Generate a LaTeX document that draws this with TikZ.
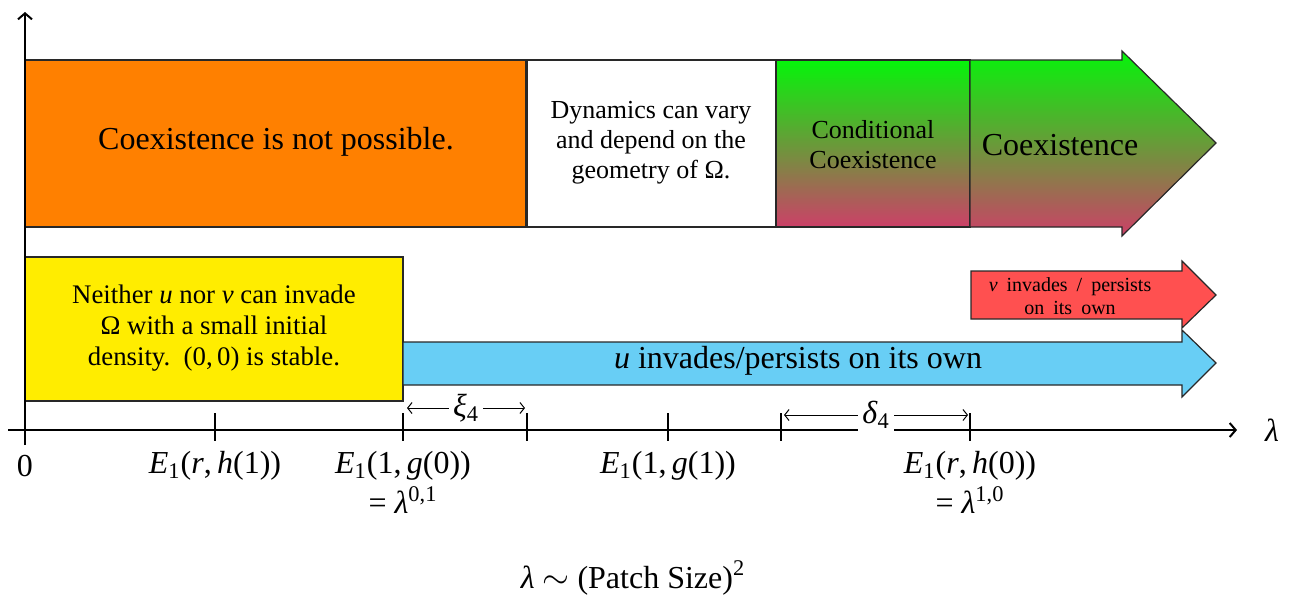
\documentclass[tikz,border=0pt]{standalone}
\usepackage{fontspec}
\setmainfont{Liberation Serif}
\usetikzlibrary{arrows.meta}
\definecolor{orangeC}{RGB}{255,128,0}
\definecolor{yellowC}{RGB}{255,237,0}
\definecolor{blueC}{RGB}{104,206,245}
\definecolor{redC}{RGB}{255,80,80}
\definecolor{gtop}{RGB}{5,245,10}
\definecolor{gbot}{RGB}{204,64,104}
\definecolor{edgeC}{RGB}{40,40,40}
\newcommand\fsz[1]{\fontsize{#1}{1.15\dimexpr #1pt\relax}\selectfont}
\newcommand\ws{\hspace{4.5pt}}
\begin{document}
\begin{tikzpicture}[x=0.5pt,y=-0.5pt,
  box/.style={draw=edgeC, line width=0.6pt},
  grad/.style={box, top color=gtop, bottom color=gbot},
  axisline/.style={line width=1pt, -{Straight Barb[length=3pt,width=7pt]}},
  tickline/.style={line width=0.8pt},
  span/.style={line width=0.5pt, {Straight Barb[length=2.2pt,width=5.5pt]}-{Straight Barb[length=2.2pt,width=5.5pt]}},
  txt/.style={inner sep=0pt, align=center},
  big/.style={txt, font=\fsz{16}},
  mid/.style={txt, font=\fsz{13}},
  small/.style={txt, font=\fsz{10}}]
\useasboundingbox (0,0) rectangle (1293,596);

% top row
\filldraw[box, fill=orangeC] (25,60) rectangle (526,227);
\filldraw[box, fill=white] (527,60) rectangle (776,227);
\shadedraw[grad] (776,60) rectangle (970,227);
\shadedraw[grad] (970,60) -- (1122,60) -- (1122,51) -- (1216,143) -- (1122,236) -- (1122,227) -- (970,227) -- cycle;

\node[big] (nocoex) at (276,142) {Coexistence is not possible.};
\node[mid] (dyn) at (651,143) {Dynamics can vary\\and depend on the\\geometry of Ω.};
\node[mid] (cond) at (873,145) {Conditional\\Coexistence};
\node[big] (coex) at (1060,145) {Coexistence};

% bottom row
\filldraw[box, fill=yellowC] (25,257) rectangle (403,401);
\filldraw[box, fill=blueC] (403,342) -- (1182,342) -- (1182,330) -- (1216,363) -- (1182,397) -- (1182,385) -- (403,385) -- cycle;
\filldraw[box, fill=redC] (971,271) -- (1182,271) -- (1182,261) -- (1216,295) -- (1182,328) -- (1182,319) -- (971,319) -- cycle;

\node[txt, font=\fsz{13.4}] (neither) at (214,328) {Neither \textit{u} nor \textit{v} can invade\\Ω with a small initial\\density.\ \ (0,\,0) is stable.};
\node[big] (uinv) at (798,361) {\textit{u} invades/persists on its own};
\node[small] (vinv) at (1070,296) {\textit{v}\ws invades\ws /\ws persists\\on\ws its\ws own};

% axes
\coordinate (xs) at (8,430);
\coordinate (xe) at (1237,430);
\coordinate (ys) at (25,445);
\coordinate (ye) at (25,12);
\draw[axisline] (xs) -- (xe);
\draw[axisline] (ys) -- (ye);
\node[big] (lam) at (1272,430) {\textit{λ}};

% ticks
\foreach \n/\x in {a/215,b/403,c/527,d/668,e/781,f/970}{
  \coordinate (t\n u) at (\x,413);
  \coordinate (t\n d) at (\x,441);
  \draw[tickline] (t\n u) -- (t\n d);
}

% spans
\coordinate (xiL) at (407,408);
\coordinate (xiR) at (525,408);
\draw[span] (xiL) -- node[fill=white, inner sep=2pt, font=\fsz{16}] (xi) {\textit{ξ}\textsubscript{4}} (xiR);
\coordinate (deL) at (784,415);
\coordinate (deR) at (968,415);
\draw[span] (deL) -- node[fill=white, inner sep=2pt, font=\fsz{16}] (de) {\textit{δ}\textsubscript{4}} (deR);

% labels
\node[big] (l0) at (25,466) {0};
\node[big] (l1) at (215,466) {\textit{E}\textsubscript{1}(\textit{r},\,\textit{h}(1))};
\node[big] (l2) at (403,466) {\textit{E}\textsubscript{1}(1,\,\textit{g}(0))};
\node[big] (l2b) at (403,500) {= \textit{λ}\textsuperscript{0,1}};
\node[big] (l3) at (668,466) {\textit{E}\textsubscript{1}(1,\,\textit{g}(1))};
\node[big] (l4) at (970,466) {\textit{E}\textsubscript{1}(\textit{r},\,\textit{h}(0))};
\node[big] (l4b) at (970,500) {= \textit{λ}\textsuperscript{1,0}};
\node[big] (cap) at (633,578) {\textit{λ} $\sim$ (Patch Size)\textsuperscript{2}};
\end{tikzpicture}
\end{document}
